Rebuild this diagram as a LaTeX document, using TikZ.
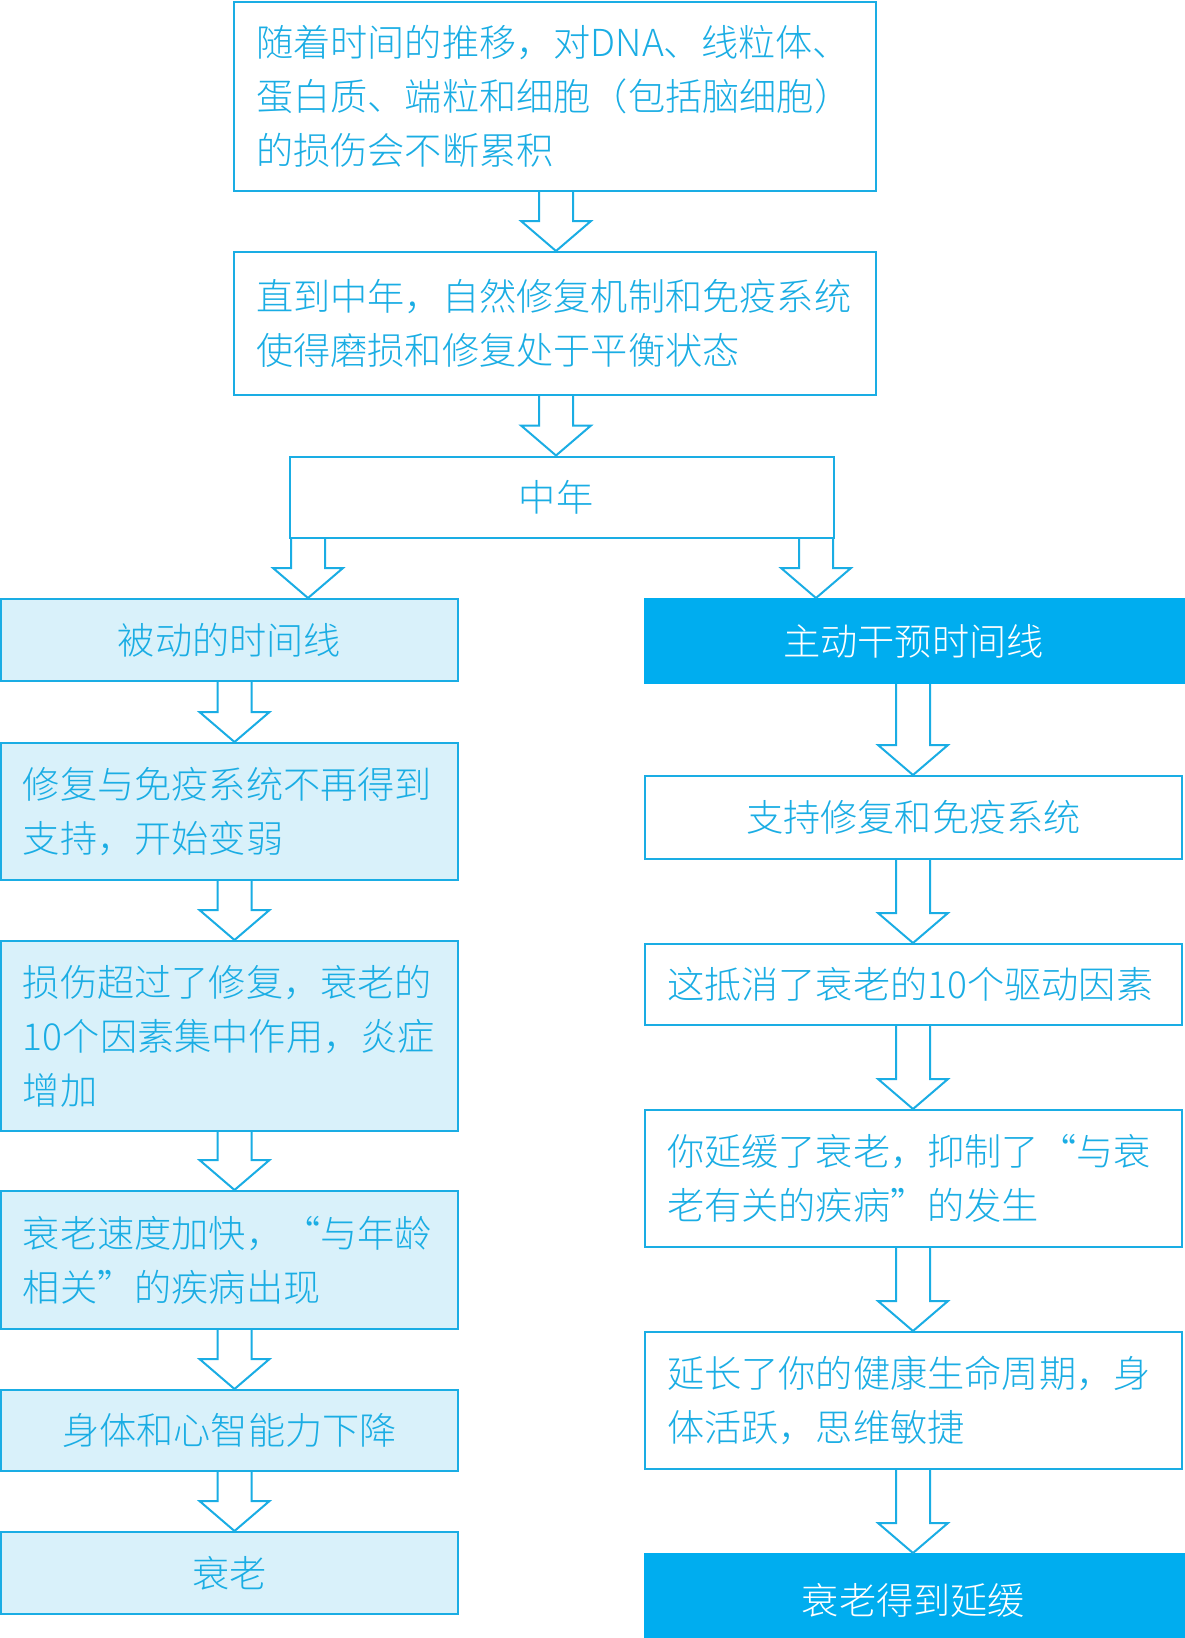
\documentclass[tikz,border=0pt]{standalone}
\usepackage{fontspec}
\setmainfont{Noto Sans CJK SC Light}
\usetikzlibrary{calc}
\definecolor{cline}{HTML}{1AADE4}
\definecolor{clight}{HTML}{D9F1FA}
\definecolor{cfill}{HTML}{00ADEF}
\tikzset{
  base/.style={draw=cline, line width=2pt, rectangle, inner xsep=22pt, inner ysep=0pt,
    font=\fontsize{37.2}{54}\selectfont, text=cline},
  plainbox/.style={base, fill=white},
  lightbox/.style={base, fill=clight},
  darkbox/.style={base, fill=cfill, draw=cfill, text=white},
  leftbox/.style={align=left},
  centerbox/.style={align=center},
  arrowline/.style={draw=cline, line width=2pt, line join=miter},
}
\newcommand\blockarrow[3]{%
  \draw[arrowline] let \p1=(#1), \p2=(#2.south), \p3=(#3.north) in
    (\x1-17pt,\y2) -- (\x1-17pt,\y3+30pt) -- (\x1-35pt,\y3+30pt) -- (\x1,\y3)
    -- (\x1+35pt,\y3+30pt) -- (\x1+17pt,\y3+30pt) -- (\x1+17pt,\y2);
}
\begin{document}
\begin{tikzpicture}[x=1pt,y=-1pt]
\useasboundingbox (0,0) rectangle (1184,1638);
\fill[white] (0,0) rectangle (1184,1638);
% top chain
\node[plainbox, leftbox, minimum width=642pt, minimum height=189pt, text width=598pt] (b1) at (555,96.5)
  {随着时间的推移，对DNA、线粒体、\\蛋白质、端粒和细胞（包括脑细胞）\\的损伤会不断累积};
\node[plainbox, leftbox, minimum width=642pt, minimum height=143pt, text width=598pt] (b2) at (555,323.5)
  {直到中年，自然修复机制和免疫系统\\使得磨损和修复处于平衡状态};
\node[plainbox, centerbox, minimum width=544pt, minimum height=81pt, text width=500pt] (b3) at (562,497)
  {中年\hspace*{12pt}};
% left column
\node[lightbox, centerbox, minimum width=457pt, minimum height=82pt, text width=413pt] (l1) at (229.5,640)
  {被动的时间线};
\node[lightbox, leftbox, minimum width=457pt, minimum height=137pt, text width=413pt] (l2) at (229.5,811.5)
  {修复与免疫系统不再得到\\支持，开始变弱};
\node[lightbox, leftbox, minimum width=457pt, minimum height=190pt, text width=413pt] (l3) at (229.5,1036)
  {损伤超过了修复，衰老的\\10个因素集中作用，炎症\\增加};
\node[lightbox, leftbox, minimum width=457pt, minimum height=138pt, text width=413pt] (l4) at (229.5,1260)
  {衰老速度加快，“与年龄\\相关”的疾病出现};
\node[lightbox, centerbox, minimum width=457pt, minimum height=81pt, text width=413pt] (l5) at (229.5,1430.5)
  {身体和心智能力下降};
\node[lightbox, centerbox, minimum width=457pt, minimum height=82pt, text width=413pt] (l6) at (229.5,1573)
  {衰老};
% right column
\node[darkbox, centerbox, minimum width=541pt, minimum height=84pt, text width=497pt] (r1) at (915.5,641)
  {主动干预时间线\hspace*{4pt}};
\node[plainbox, centerbox, minimum width=537pt, minimum height=83pt, text width=493pt] (r2) at (913.5,817.5)
  {支持修复和免疫系统};
\node[plainbox, leftbox, minimum width=537pt, minimum height=81pt, text width=493pt] (r3) at (913.5,984.5)
  {这抵消了衰老的10个驱动因素};
\node[plainbox, leftbox, minimum width=537pt, minimum height=137pt, text width=493pt] (r4) at (913.5,1178.5)
  {你延缓了衰老，抑制了“与衰\\老有关的疾病”的发生};
\node[plainbox, leftbox, minimum width=537pt, minimum height=137pt, text width=493pt] (r5) at (913.5,1400.5)
  {延长了你的健康生命周期，身\\体活跃，思维敏捷};
\node[darkbox, centerbox, minimum width=541pt, minimum height=92pt, text width=497pt] (r6) at (915.5,1600)
  {衰老得到延缓\hspace*{4pt}};
% arrow reference coordinates
\coordinate (xm) at (556,0);
\coordinate (xl0) at (308,0);
\coordinate (xr0) at (816,0);
\coordinate (xl) at (234.5,0);
\coordinate (xr) at (913,0);
% arrows
\blockarrow{xm}{b1}{b2}
\blockarrow{xm}{b2}{b3}
\blockarrow{xl0}{b3}{l1}
\blockarrow{xr0}{b3}{r1}
\blockarrow{xl}{l1}{l2}
\blockarrow{xl}{l2}{l3}
\blockarrow{xl}{l3}{l4}
\blockarrow{xl}{l4}{l5}
\blockarrow{xl}{l5}{l6}
\blockarrow{xr}{r1}{r2}
\blockarrow{xr}{r2}{r3}
\blockarrow{xr}{r3}{r4}
\blockarrow{xr}{r4}{r5}
\blockarrow{xr}{r5}{r6}
\end{tikzpicture}
\end{document}
